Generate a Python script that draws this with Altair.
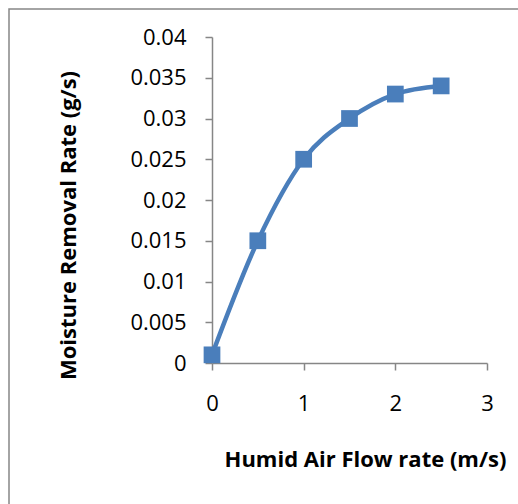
import altair as alt
import pandas as pd

flow = [0, 0.5, 1.0, 1.5, 2.0, 2.5]
rate = [0.001, 0.015, 0.025, 0.030, 0.033, 0.034]
df = pd.DataFrame({"flow": flow, "rate": rate})

FONT = "Open Sans"
BLUE = "#4A7EBB"
GRAY = "#868686"

x = alt.X("flow:Q", scale=alt.Scale(domain=[0, 3], nice=False),
          axis=alt.Axis(title="Humid Air Flow rate (m/s)", values=[0, 1, 2, 3], format="d",
                        grid=False, domainColor=GRAY, domainWidth=1.5, tickColor=GRAY,
                        tickWidth=1.5, tickSize=7, labelPadding=23, labelFontSize=22,
                        labelFlush=False,
                        labelFont=FONT, labelColor="black", titleFont=FONT, titleFontSize=22,
                        titleFontWeight="bold", titleColor="black",
                        titleX=153, titleY=96, titleAlign="center", titleBaseline="middle"))
y = alt.Y("rate:Q", scale=alt.Scale(domain=[0, 0.04], nice=False),
          axis=alt.Axis(title="Moisture Removal Rate (g/s)",
                        values=[0, 0.005, 0.01, 0.015, 0.02, 0.025, 0.03, 0.035, 0.04],
                        labelExpr="datum.value == 0 ? '0' : format(datum.value, '.3~f')",
                        grid=False, domainColor=GRAY, domainWidth=1.5, tickColor=GRAY,
                        tickWidth=1.5, tickSize=7, labelPadding=19, labelFontSize=22,
                        labelFlush=False,
                        labelFont=FONT, labelColor="black", titleFont=FONT, titleFontSize=22,
                        titleFontWeight="bold", titleColor="black", titleAngle=-90,
                        titleX=-144, titleY=188, titleAlign="center", titleBaseline="middle"))

line = alt.Chart(df).mark_line(color=BLUE, strokeWidth=4.5, interpolate="cardinal", clip=False).encode(x=x, y=y)
pts = alt.Chart(df).mark_square(color=BLUE, size=280, opacity=1, clip=False).encode(x=x, y=y)

border = alt.Chart(pd.DataFrame({"a": [0]})).mark_rect(
    fill=None, stroke=GRAY, strokeWidth=1.5, clip=False
).encode(x=alt.value(-203), x2=alt.value(330), y=alt.value(-28), y2=alt.value(500))

chart = alt.layer(border, line, pts).properties(
    width=275, height=326,
    autosize=alt.AutoSizeParams(type="none"),
    padding={"left": 212, "top": 37, "right": 31, "bottom": 141},
    background="white",
).configure_view(stroke=None)

chart.save("out.html", embed_options={"renderer": "svg", "actions": False})
